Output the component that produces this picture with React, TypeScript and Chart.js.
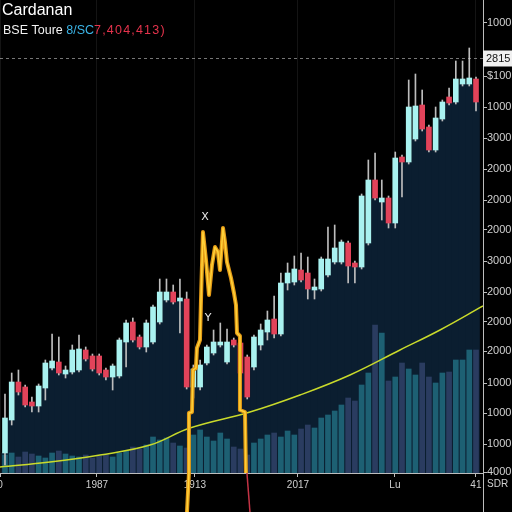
import { useEffect, useRef } from 'react';
import { Chart, registerables } from 'chart.js';

Chart.register(...registerables);

// ---- data (price units on the right axis scale) ----
const openP = [
  20, 53, 91, 86, 71, 67, 85, 105, 111, 99,
  101, 103, 123, 117, 117, 103, 96, 97, 131, 151,
  136, 126, 131, 151, 173, 181, 172, 174, 86, 86,
  110, 120, 128, 111, 133, 130, 116, 106, 128, 141,
  154, 139, 190, 191, 203, 200, 183, 184, 198, 211,
  211, 230, 210, 206, 230, 293, 271, 275, 250, 316,
  311, 334, 368, 346, 323, 354, 376, 371, 389, 389, 394,
];
const closeP = [
  55, 91, 81, 68, 67, 87, 110, 112, 100, 103,
  123, 124, 114, 104, 100, 96, 107, 133, 150, 133,
  126, 150, 166, 181, 181, 171, 175, 86, 104, 108,
  126, 131, 131, 131, 128, 100, 76, 136, 143, 153,
  139, 190, 200, 204, 193, 184, 186, 214, 214, 225,
  231, 207, 206, 277, 293, 275, 275, 250, 315, 311,
  366, 367, 344, 323, 355, 371, 370, 394, 394, 395, 371,
];
const highP = [
  79, 100, 103, 88, 76, 89, 113, 139, 136, 107,
  128, 138, 126, 119, 119, 105, 109, 135, 153, 155,
  138, 153, 168, 194, 194, 188, 194, 181, 108, 113,
  128, 143, 150, 144, 135, 132, 118, 138, 149, 162,
  177, 200, 210, 217, 220, 216, 194, 216, 246, 248,
  233, 232, 212, 279, 313, 320, 293, 277, 321, 318,
  393, 399, 383, 348, 366, 373, 385, 412, 412, 425, 396,
];
const lowP = [
  8, 48, 78, 66, 61, 61, 73, 103, 98, 95,
  99, 101, 112, 102, 98, 93, 83, 95, 106, 131,
  124, 121, 129, 149, 171, 169, 140, 84, 75, 83,
  108, 118, 126, 109, 126, 98, 74, 103, 123, 133,
  135, 137, 183, 188, 191, 174, 174, 182, 196, 209,
  209, 190, 190, 204, 228, 273, 253, 245, 245, 276,
  309, 332, 342, 321, 321, 352, 368, 369, 387, 387, 362,
];
const volume = [
  18, 20, 16, 21, 19, 17, 15, 20, 22, 19,
  17, 16, 18, 15, 17, 18, 16, 20, 22, 26,
  24, 28, 36, 33, 35, 30, 27, 25, 38, 43,
  36, 32, 40, 34, 26, 24, 18, 30, 34, 38,
  40, 36, 42, 38, 44, 48, 45, 55, 58, 62,
  68, 75, 72, 88, 100, 148, 140, 92, 96, 110,
  104, 98, 110, 96, 90, 100, 101, 113, 113, 123, 123,
];

// trend curve (index position, value)
const trendX = [-0.74, 6.69, 14.12, 21.55, 27.49, 36.41, 43.84, 51.27, 58.7, 64.65, 71.04];
const trendY = [6, 11, 18, 28, 45, 61, 78, 98, 123, 143, 167];

// spike line (index position, value)
const spikeX = [27.05, 27.34, 27.34, 27.79, 27.94, 28.38, 28.53, 28.98, 29.13, 29.42, 29.87, 30.32, 30.76, 31.21, 31.65, 31.95, 32.4, 32.69, 32.99, 33.59, 34.03, 34.33, 34.48, 34.92, 34.92, 35.67, 35.81];
const spikeY = [-39, 0, 60, 61, 103, 105, 125, 133, 173, 241, 213, 178, 208, 226, 221, 203, 245, 231, 211, 195, 180, 168, 140, 137, 63, 61, 0];
const tailX = [35.96, 36.41];
const tailY = [0, -39];

// axes
const yTickValues = [450, 397, 366, 335, 304, 273, 243, 212, 181, 151, 122, 90, 60, 29, 1];
const yTickLabels = ['1000', '$100', '1000', '3000', '2000', '2000', '2000', '3000', '2000', '2000', '2000', '1000', '1000', '1000', '4000'];
const xTickValues = [-0.74, 13.67, 28.23, 43.54, 57.95, 69.99];
const xTickLabels = ['0', '1987', '1913', '2017', 'Lu', '41'];
const xMin = -0.74;
const xMax = 71.04;
const yMin = 0;
const yMax = 473;

const lastPrice = 415;
const lastPriceLabel = '2815';
const axisUnit = 'SDR';
const titleText = 'Cardanan';
const subWhite = 'BSE Toure ';
const subCyan = '8/SC';
const subRed = '7,404,413)';
const notes = [
  { x: 29.72, y: 256, text: 'X' },
  { x: 30.17, y: 155, text: 'Y' },
];

const UP = '#a9f2f0';
const DOWN = '#e2435a';

const decor = {
  id: 'decor',
  beforeDraw(chart: any) {
    const { ctx, width, height } = chart;
    ctx.save();
    ctx.fillStyle = '#000';
    ctx.fillRect(0, 0, width, height);
    ctx.restore();
  },
  afterDraw(chart: any) {
    const { ctx, chartArea: a } = chart;
    const x = chart.scales.x;
    const y = chart.scales.y;
    ctx.save();
    // right axis line continues down
    ctx.strokeStyle = '#bdbdbd';
    ctx.lineWidth = 1;
    ctx.beginPath();
    ctx.moveTo(Math.round(a.right) + 0.5, a.bottom);
    ctx.lineTo(Math.round(a.right) + 0.5, chart.height);
    ctx.stroke();

    // last price crosshair
    const py = Math.round(y.getPixelForValue(lastPrice)) + 0.5;
    ctx.setLineDash([3, 3]);
    ctx.strokeStyle = 'rgba(215,215,215,0.55)';
    ctx.beginPath();
    ctx.moveTo(a.left, py);
    ctx.lineTo(a.right, py);
    ctx.stroke();
    ctx.setLineDash([]);
    ctx.fillStyle = '#f0f0f0';
    ctx.fillRect(a.right, py - 8, chart.width - a.right, 16);
    ctx.fillStyle = '#111';
    ctx.font = '11px "Liberation Sans"';
    ctx.textBaseline = 'middle';
    ctx.textAlign = 'left';
    ctx.fillText(lastPriceLabel, a.right + 3, py);

    // notes
    ctx.fillStyle = '#e8e8e8';
    ctx.font = '11px "DejaVu Sans"';
    ctx.textAlign = 'center';
    for (const n of notes) {
      ctx.fillText(n.text, x.getPixelForValue(n.x), y.getPixelForValue(n.y));
    }

    // axis unit
    ctx.fillStyle = '#cfcfcf';
    ctx.font = '10px "Liberation Sans"';
    ctx.textAlign = 'left';
    ctx.fillText(axisUnit, a.right + 4, a.bottom + 11);

    // title
    ctx.textAlign = 'left';
    ctx.fillStyle = '#ffffff';
    ctx.font = '16px "Liberation Sans"';
    ctx.fillText(titleText, 2, 11);
    ctx.font = '12.5px "Liberation Sans"';
    let cx = 3;
    ctx.fillStyle = '#f2f2f2';
    ctx.fillText(subWhite, cx, 31);
    cx += ctx.measureText(subWhite).width;
    ctx.fillStyle = '#3bb4e6';
    ctx.fillText(subCyan, cx, 31);
    cx += ctx.measureText(subCyan).width;
    ctx.fillStyle = '#e5334c';
    (ctx as any).letterSpacing = '1.2px';
    ctx.fillText(subRed, cx, 31);
    (ctx as any).letterSpacing = '0px';
    ctx.restore();
  },
};

export default function App() {
  const ref = useRef<HTMLCanvasElement | null>(null);

  useEffect(() => {
    if (!ref.current) return;
    const idx = openP.map((_, i) => i);
    const bodyColors = idx.map((i) => (closeP[i] >= openP[i] ? UP : DOWN));
    const volColors = idx.map((i) => (closeP[i] >= openP[i] ? 'rgba(34,112,132,0.8)' : 'rgba(48,66,104,0.85)'));

    const chart = new Chart(ref.current, {
      type: 'bar',
      data: {
        datasets: [
          {
            type: 'line',
            label: 'spike-outer',
            data: spikeX.map((v, i) => ({ x: v, y: spikeY[i] })),
            borderColor: '#e39a16',
            borderWidth: 4,
            borderJoinStyle: 'round',
            pointRadius: 0,
            tension: 0,
            clip: false,
            order: 1,
          } as any,
          {
            type: 'line',
            label: 'spike-inner',
            data: spikeX.map((v, i) => ({ x: v, y: spikeY[i] })),
            borderColor: '#ffd23a',
            borderWidth: 1.5,
            borderJoinStyle: 'round',
            pointRadius: 0,
            tension: 0,
            clip: false,
            order: 0,
          } as any,
          {
            type: 'line',
            label: 'tail',
            data: tailX.map((v, i) => ({ x: v, y: tailY[i] })),
            borderColor: '#c43345',
            borderWidth: 1.5,
            pointRadius: 0,
            clip: false,
            order: 0,
          } as any,
          {
            label: 'bodies',
            data: idx.map((i) => ({ x: i, y: [openP[i], closeP[i]] })),
            backgroundColor: bodyColors,
            barThickness: 5,
            grouped: false,
            order: 2,
          } as any,
          {
            label: 'wicks',
            data: idx.map((i) => ({ x: i, y: [lowP[i], highP[i]] })),
            backgroundColor: '#bdbdbd',
            barThickness: 1,
            grouped: false,
            order: 3,
          } as any,
          {
            type: 'line',
            label: 'trend',
            data: trendX.map((v, i) => ({ x: v, y: trendY[i] })),
            borderColor: '#c9da2b',
            borderWidth: 1.5,
            pointRadius: 0,
            tension: 0.4,
            order: 4,
          } as any,
          {
            label: 'volume',
            data: idx.map((i) => ({ x: i, y: volume[i] })),
            backgroundColor: volColors,
            barThickness: 5,
            grouped: false,
            order: 5,
          } as any,
          {
            label: 'area',
            data: idx.map((i) => ({ x: i, y: Math.min(openP[i], closeP[i]) })),
            backgroundColor: '#0b1e30',
            barThickness: 7,
            grouped: false,
            order: 6,
          } as any,
        ],
      },
      options: {
        responsive: false,
        animation: false,
        devicePixelRatio: 1,
        layout: { padding: 0, autoPadding: false } as any,
        plugins: { legend: { display: false }, tooltip: { enabled: false }, title: { display: false } },
        scales: {
          x: {
            type: 'linear',
            min: xMin,
            max: xMax,
            offset: false,
            grid: { offset: false, color: 'rgba(255,255,255,0.08)', tickColor: '#bdbdbd', tickLength: 4 },
            border: { display: true, color: '#bdbdbd' },
            afterBuildTicks: (s: any) => {
              s.ticks = xTickValues.map((v) => ({ value: v }));
            },
            afterFit: (s: any) => {
              s.height = 39;
              s.paddingLeft = 0;
              s.paddingRight = 0;
            },
            ticks: {
              autoSkip: false,
              maxRotation: 0,
              padding: 2,
              color: '#cfcfcf',
              font: { family: 'Liberation Sans', size: 10 },
              callback: (_v: any, i: number) => xTickLabels[i],
            },
          } as any,
          y: {
            type: 'linear',
            position: 'right',
            min: yMin,
            max: yMax,
            grid: { drawOnChartArea: false, tickColor: '#bdbdbd', tickLength: 4 },
            border: { display: true, color: '#bdbdbd' },
            afterBuildTicks: (s: any) => {
              s.ticks = yTickValues.map((v) => ({ value: v }));
            },
            afterFit: (s: any) => {
              s.width = 29;
              s.paddingTop = 0;
              s.paddingBottom = 0;
            },
            ticks: {
              autoSkip: false,
              padding: 0,
              color: '#d0d0d0',
              font: { family: 'Liberation Sans', size: 11 },
              callback: (_v: any, i: number) => yTickLabels[i],
            },
          } as any,
        },
      },
      plugins: [decor],
    });
    return () => chart.destroy();
  }, []);

  return (
    <div style={{ position: 'fixed', left: 0, top: 0, width: 512, height: 512, background: '#000' }}>
      <canvas ref={ref} width={512} height={512} style={{ display: 'block' }} />
    </div>
  );
}
